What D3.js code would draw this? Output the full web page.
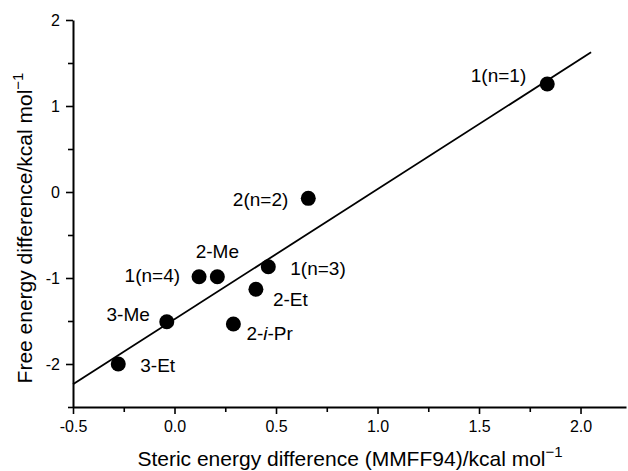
<!DOCTYPE html>
<html>
<head>
<meta charset="utf-8">
<script src="https://cdn.jsdelivr.net/npm/d3@7"></script>
<style>
  body { margin: 0; background: #fff; }
  text { font-family: "Liberation Sans", Arial, sans-serif; fill: #000; }
</style>
</head>
<body>
<div id="chart"></div>
<script>
var svgwidth = 628;
var svgheight = 471;
var margin = { top: 20, bottom: 64, right: 2, left: 73 };
var width = svgwidth - margin.left - margin.right;
var height = svgheight - margin.top - margin.bottom;

// data
var names = ["1(n=1)", "2(n=2)", "2-Me", "1(n=4)", "1(n=3)", "2-Et", "2-i-Pr", "3-Me", "3-Et"];
var steric = [1.836, 0.659, 0.211, 0.121, 0.462, 0.401, 0.290, -0.038, -0.277];
var freeE = [1.256, -0.074, -0.985, -0.985, -0.869, -1.131, -1.535, -1.508, -2.0];
var fitX = [-0.5, 2.052];
var fitY = [-2.236, 1.624];
var xTicks = [-0.5, 0.0, 0.5, 1.0, 1.5, 2.0];
var yTicks = [-2, -1, 0, 1, 2];

// label placement (anchor, dx, dy from the point)
var labelPos = [
  ["end", -21, -2], ["end", -20, 8], ["middle", 0, -19], ["end", -19, 5],
  ["start", 22, 8], ["start", 17, 17], ["start", 13, 16], ["end", -17, -1], ["start", 22, 8]
];

var svg = d3.select("#chart").append("svg").attr("width", svgwidth).attr("height", svgheight);
var chartGroup = svg.append("g").attr("transform", `translate(${margin.left}, ${margin.top})`);

var x = d3.scaleLinear().domain([-0.5, 2.224]).range([0, width]);
var y = d3.scaleLinear().domain([-2.5, 2]).range([height, 0]);

// minor ticks
chartGroup.append("g").attr("transform", `translate(0, ${height})`)
  .call(d3.axisBottom(x).tickValues(d3.range(-0.25, 2.2, 0.5)).tickSize(5).tickFormat(""))
  .call(g => g.select(".domain").remove());
chartGroup.append("g")
  .call(d3.axisLeft(y).tickValues(d3.range(-2.5, 2, 0.5).filter(v => v % 1 !== 0)).tickSize(5).tickFormat(""))
  .call(g => g.select(".domain").remove());

var fmt = d3.format(".1f");
var xAxis = chartGroup.append("g").attr("transform", `translate(0, ${height})`)
  .call(d3.axisBottom(x).tickValues(xTicks).tickSize(7).tickSizeOuter(0)
    .tickFormat(d => fmt(d).replace("\u2212", "-")));
var yAxis = chartGroup.append("g")
  .call(d3.axisLeft(y).tickValues(yTicks).tickSize(7).tickSizeOuter(0).tickFormat(d => String(d)));

[xAxis, yAxis].forEach(function(a) {
  a.selectAll("text").style("font-size", "16px").style("font-family", "Liberation Sans, Arial, sans-serif");
  a.select(".domain").attr("stroke-width", 2);
});
chartGroup.selectAll(".tick line").attr("stroke-width", 1.6);
xAxis.selectAll("text").attr("y", 14);
yAxis.selectAll("text").attr("x", -13);

// fit line
chartGroup.append("line")
  .attr("x1", x(fitX[0])).attr("y1", y(fitY[0]))
  .attr("x2", x(fitX[1])).attr("y2", y(fitY[1]))
  .attr("stroke", "#000").attr("stroke-width", 1.8);

var pts = names.map((n, i) => ({ name: n, sx: steric[i], fy: freeE[i], pos: labelPos[i] }));

chartGroup.selectAll("circle").data(pts).enter().append("circle")
  .attr("cx", d => x(d.sx)).attr("cy", d => y(d.fy)).attr("r", 7.5).attr("fill", "#000");

var labels = chartGroup.selectAll("text.lbl").data(pts).enter().append("text")
  .attr("class", "lbl")
  .attr("x", d => x(d.sx) + d.pos[1]).attr("y", d => y(d.fy) + d.pos[2])
  .attr("text-anchor", d => d.pos[0])
  .style("font-size", "19px");
labels.each(function(d) {
  var t = d3.select(this);
  if (d.name === "2-i-Pr") {
    t.append("tspan").text("2-");
    t.append("tspan").style("font-style", "italic").text("i");
    t.append("tspan").text("-Pr");
  } else {
    t.text(d.name);
  }
});

// axis titles
var xt = svg.append("text").attr("x", 350).attr("y", 466)
  .attr("text-anchor", "middle").style("font-size", "21px");
xt.append("tspan").text("Steric energy difference (MMFF94)/kcal mol");
xt.append("tspan").attr("dy", -9).style("font-size", "15px").text("\u22121");

var yt = svg.append("text").attr("transform", "translate(32, 228) rotate(-90)")
  .attr("text-anchor", "middle").style("font-size", "21px");
yt.append("tspan").text("Free energy difference/kcal mol");
yt.append("tspan").attr("dy", -9).style("font-size", "15px").text("\u22121");
</script>
</body>
</html>
